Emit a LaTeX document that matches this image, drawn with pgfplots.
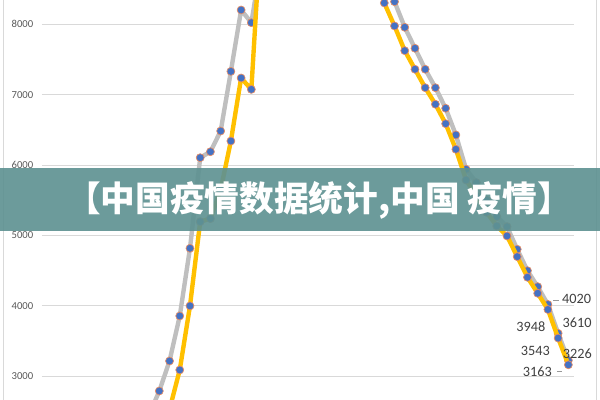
\documentclass[border=0pt]{standalone}
\usepackage{pgfplots}
\pgfplotsset{compat=1.18}
\usepackage{pgfplotstable}
\usepackage{fontspec}
\setmainfont{Carlito}
\newfontfamily\cjk{Noto Sans CJK SC}
\definecolor{grayline}{RGB}{191,191,191}
\definecolor{yel}{RGB}{255,192,0}
\definecolor{mk}{RGB}{68,114,196}
\definecolor{mkedge}{RGB}{230,140,100}
\definecolor{banner}{RGB}{95,146,146}
\definecolor{gridc}{RGB}{217,217,217}
\definecolor{tickc}{RGB}{89,89,89}
\definecolor{labc}{RGB}{64,64,64}

\pgfplotstableread{
x y
-1 2450
0 2791
1 3217
2 3857
3 4818
4 6105
5 6190
6 6484
7 7331
8 8203
9 8023
10 8900
11 9600
12 10200
13 10800
14 11200
15 11500
16 11700
17 11800
18 11600
19 11300
20 11000
21 10600
22 10000
23 8321
24 7957
25 7659
26 7361
27 7099
28 6807
29 6428
30 5940
31 5750
32 5500
33 5267
34 5125
35 4804
36 4500
37 4273
38 4020
39 3610
40 3226
}\graydata

\pgfplotstableread{
x y
0 2200
1 2530
2 3090
3 4000
4 5196
5 5240
6 5650
7 6342
8 7237
9 7075
10 9500
11 10000
12 10500
13 11000
14 11400
15 11700
16 11900
17 11800
18 11500
19 11100
20 10700
21 10200
22 8303
23 7976
24 7625
25 7361
26 7099
27 6864
28 6588
29 6224
30 5788
31 5560
32 5330
33 5135
34 4993
35 4699
36 4406
37 4179
38 3948
39 3543
40 3163
}\yeldata

\begin{document}
\begin{tikzpicture}[x=1pt,y=1pt]
\path[use as bounding box] (0,0) rectangle (450,300);
\draw[gridc, line width=0.75pt] (2.25,0) -- (2.25,300);
\draw[gridc, line width=0.75pt] (447,0) -- (447,300);
\begin{axis}[
  at={(31.5pt,0pt)}, anchor=south west,
  scale only axis, width=399pt, height=300pt,
  xmin=-11.47, xmax=40.55, ymin=2663, ymax=8345,
  axis line style={draw=none},
  xtick=\empty,
  ytick={3000,4000,5000,6000,7000,8000},
  ymajorgrids, grid style={gridc, line width=0.75pt},
  major tick length=0pt,
  yticklabel style={font=\fontsize{8}{9}\selectfont, text=tickc, xshift=-3pt},
  /pgf/number format/assume math mode=true,
  /pgf/number format/1000 sep={},
  clip mode=individual,
]
\addplot[grayline, line width=3.3pt, line join=round,
  mark=*, mark size=3pt, mark options={fill=mk, draw=mkedge, line width=0.5pt}]
  table[x=x,y=y] {\graydata};
\addplot[yel, line width=3.3pt, line join=round,
  mark=*, mark size=3pt, mark options={fill=mk, draw=mkedge, line width=0.5pt}]
  table[x=x,y=y] {\yeldata};
\draw[gridc!70!black, line width=0.5pt] (axis cs:38.50,4083) -- (axis cs:39.09,4083);
\draw[gridc!70!black, line width=0.5pt] (axis cs:38.87,3065) -- (axis cs:39.35,3065);
\begin{scope}[every node/.style={font=\fontsize{10.7}{12}\selectfont, text=labc, inner sep=0pt}]
\node at (axis cs:40.80,4093) {4020};
\node at (axis cs:40.85,3761) {3610};
\node at (axis cs:40.87,3326) {3226};
\node at (axis cs:36.33,3704) {3948};
\node at (axis cs:36.77,3359) {3543};
\node at (axis cs:36.96,3065) {3163};
\end{scope}
\end{axis}
\fill[banner, opacity=0.92] (0,126.75) rectangle (450,174);
\node[text=white, font=\cjk\bfseries\fontsize{26}{26}\selectfont, inner sep=0pt] at (239.25,150) {【中国疫情数据统计,中国 疫情】};
\end{tikzpicture}
\end{document}
